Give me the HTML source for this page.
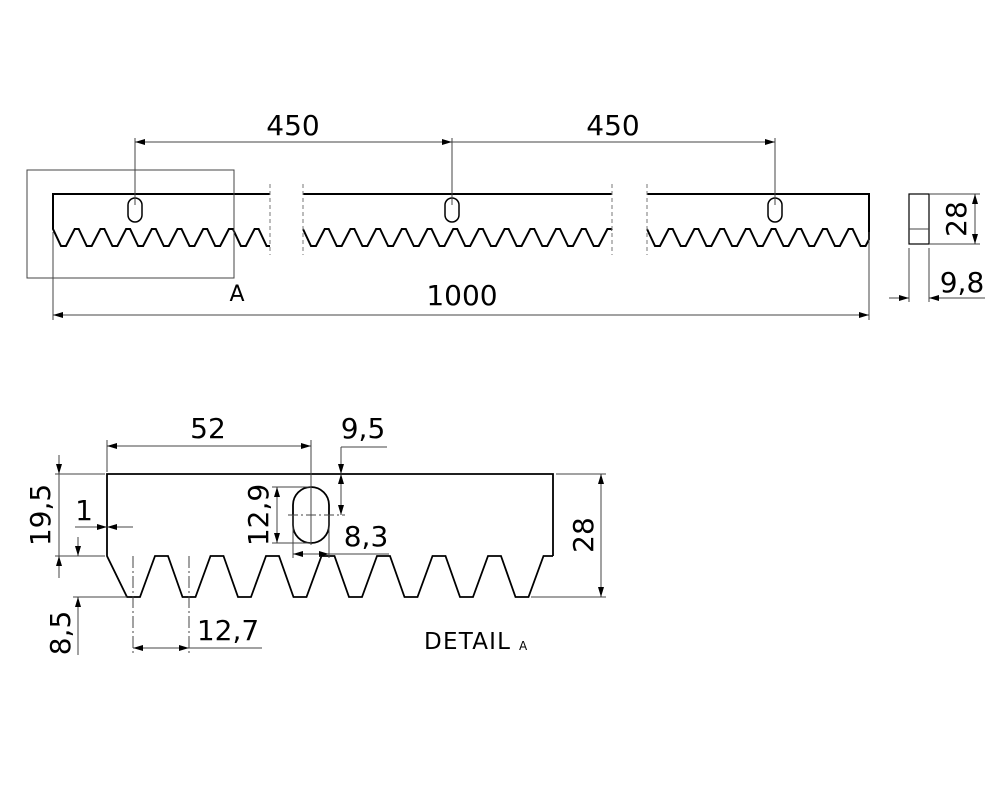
<!DOCTYPE html>
<html><head><meta charset="utf-8"><style>
html,body{margin:0;padding:0;background:#fff}
svg{display:block}
text{font-family:"DejaVu Sans","Liberation Sans",sans-serif;fill:#000}
</style></head><body>
<svg id="s" width="1000" height="800" viewBox="0 0 1000 800" xmlns="http://www.w3.org/2000/svg">
<defs>
<marker id="a" viewBox="0 0 10 6" refX="10" refY="3" markerWidth="10" markerHeight="6" orient="auto-start-reverse" markerUnits="userSpaceOnUse"><path d="M0,0 L10,3 L0,6z" fill="#000"/></marker>
</defs>
<g fill="none" stroke="#000">
<path id="p1" stroke-width="2" d=""/>
<path id="p2" stroke-width="2" d=""/>
<path id="p3" stroke-width="2" d=""/>
<g stroke="#777" stroke-dasharray="4,3" stroke-width="1">
<line x1="270" y1="184" x2="270" y2="255"/>
<line x1="303" y1="184" x2="303" y2="255"/>
<line x1="612" y1="184" x2="612" y2="255"/>
<line x1="647" y1="184" x2="647" y2="255"/>
</g>
<g stroke-width="1.5">
<rect x="128" y="198" width="14" height="24" rx="7"/>
<rect x="445" y="198" width="14" height="24" rx="7"/>
<rect x="768" y="198" width="14" height="24" rx="7"/>
</g>
<g stroke="#444" stroke-width="1">
<rect x="27" y="170" width="207" height="108"/>
<line x1="135" y1="138" x2="135" y2="205"/>
<line x1="452" y1="138" x2="452" y2="205"/>
<line x1="775" y1="138" x2="775" y2="205"/>
<line x1="135" y1="142" x2="452" y2="142" marker-start="url(#a)" marker-end="url(#a)"/>
<line x1="452" y1="142" x2="775" y2="142" marker-end="url(#a)"/>
<line x1="53" y1="232" x2="53" y2="320"/>
<line x1="869" y1="232" x2="869" y2="320"/>
<line x1="53" y1="315" x2="869" y2="315" marker-start="url(#a)" marker-end="url(#a)"/>
<rect x="909" y="194" width="20" height="50" stroke="#000" stroke-width="1.2"/>
<line x1="909" y1="229" x2="929" y2="229"/>
<line x1="929" y1="194" x2="980" y2="194"/>
<line x1="929" y1="244" x2="980" y2="244"/>
<line x1="975" y1="194" x2="975" y2="244" marker-start="url(#a)" marker-end="url(#a)"/>
<line x1="909" y1="248" x2="909" y2="302"/>
<line x1="929" y1="248" x2="929" y2="302"/>
<line x1="889" y1="298" x2="909" y2="298" marker-end="url(#a)"/>
<line x1="949" y1="298" x2="929" y2="298" marker-end="url(#a)"/>
<line x1="949" y1="298" x2="985" y2="298"/>
</g>
<path stroke-width="1.8" d="M553,556 L553,474 L107,474 L107,556 L127,597 L140,597 L155,556 L168,556 L182.5,597 L195.5,597 L210.5,556 L223.5,556 L238,597 L251,597 L266,556 L279,556 L293.5,597 L306.5,597 L321.5,556 L334.5,556 L349,597 L362,597 L377,556 L390,556 L404.5,597 L417.5,597 L432.5,556 L445.5,556 L460,597 L473,597 L488,556 L501,556 L515.5,597 L528.5,597 L543.5,556 L553,556"/>
<rect x="293" y="487" width="36" height="56" rx="18" stroke-width="1.8"/>
<g stroke="#444" stroke-width="1">
<line x1="311" y1="440" x2="311" y2="545"/>
<line x1="288" y1="515" x2="345" y2="515" stroke-dasharray="10,3,2,3"/>
<line x1="107" y1="440" x2="107" y2="472"/>
<line x1="107" y1="446" x2="311" y2="446" marker-start="url(#a)" marker-end="url(#a)"/>
<line x1="341" y1="447" x2="387" y2="447"/>
<line x1="341" y1="447" x2="341" y2="474" marker-end="url(#a)"/>
<line x1="341" y1="474" x2="341" y2="515" marker-start="url(#a)" marker-end="url(#a)"/>
<line x1="272" y1="487" x2="311" y2="487"/>
<line x1="272" y1="543" x2="311" y2="543"/>
<line x1="277" y1="487" x2="277" y2="543" marker-start="url(#a)" marker-end="url(#a)"/>
<line x1="293" y1="515" x2="293" y2="558"/>
<line x1="329" y1="515" x2="329" y2="558"/>
<line x1="293" y1="554" x2="329" y2="554" marker-start="url(#a)" marker-end="url(#a)"/>
<line x1="329" y1="554" x2="389" y2="554"/>
<line x1="55" y1="474" x2="105" y2="474"/>
<line x1="55" y1="556" x2="105" y2="556"/>
<line x1="59" y1="455" x2="59" y2="474" marker-end="url(#a)"/>
<line x1="59" y1="474" x2="59" y2="556"/>
<line x1="59" y1="578" x2="59" y2="556" marker-end="url(#a)"/>
<line x1="75" y1="527" x2="107" y2="527" marker-end="url(#a)"/>
<line x1="133" y1="527" x2="107" y2="527" marker-end="url(#a)"/>
<line x1="73" y1="597" x2="127" y2="597"/>
<line x1="78" y1="537" x2="78" y2="556" marker-end="url(#a)"/>
<line x1="78" y1="618" x2="78" y2="597" marker-end="url(#a)"/>
<line x1="78" y1="618" x2="78" y2="655"/>
<line x1="133" y1="556" x2="133" y2="655" stroke-dasharray="12,3,2,3"/>
<line x1="189" y1="556" x2="189" y2="655" stroke-dasharray="12,3,2,3"/>
<line x1="133" y1="648" x2="189" y2="648" marker-start="url(#a)" marker-end="url(#a)"/>
<line x1="189" y1="648" x2="262" y2="648"/>
<line x1="556" y1="474" x2="606" y2="474"/>
<line x1="531" y1="597" x2="606" y2="597"/>
<line x1="601" y1="474" x2="601" y2="597" marker-start="url(#a)" marker-end="url(#a)"/>
</g>
</g>
<g font-size="28">
<text x="293" y="135" text-anchor="middle">450</text>
<text x="613" y="135" text-anchor="middle">450</text>
<text x="462" y="305" text-anchor="middle">1000</text>
<text x="962" y="292" text-anchor="middle">9,8</text>
<text transform="translate(966,219) rotate(-90)" text-anchor="middle">28</text>
<text x="208" y="438" text-anchor="middle">52</text>
<text x="363" y="438" text-anchor="middle">9,5</text>
<text x="366" y="546" text-anchor="middle">8,3</text>
<text x="228" y="640" text-anchor="middle">12,7</text>
<text x="84" y="520" text-anchor="middle">1</text>
<text transform="translate(50,515) rotate(-90)" text-anchor="middle">19,5</text>
<text transform="translate(268,515) rotate(-90)" text-anchor="middle">12,9</text>
<text transform="translate(70,633) rotate(-90)" text-anchor="middle">8,5</text>
<text transform="translate(593,535) rotate(-90)" text-anchor="middle">28</text>
</g>
<text x="237" y="301" font-size="22" text-anchor="middle">A</text>
<text x="424" y="649" font-size="23" textLength="86">DETAIL</text>
<text x="519" y="650" font-size="12">A</text>
</svg>
<script>
function teeth(x0,x1,solidLeft,solidRight){
  var s;
  if(solidLeft){s="M"+x1+",194 L"+x0+",194 L"+x0+",229";}
  else {s="M"+x0+",194 L"+x1+",194";if(solidRight)s+=" L"+x1+",229";s+=" M"+x0+",229";}
  var x=x0;
  while(true){
    var seq=[[x+8,246],[x+13,246],[x+21.7,229],[x+25.7,229]];
    var stop=false;
    for(var i=0;i<seq.length;i++){
      if(seq[i][0]>=x1){
        var y=i<2?229+Math.min(17,(x1-x)/8*17):(i==2?246-(x1-x-13)/8.7*17:229);
        s+=" L"+x1+","+y.toFixed(1);stop=true;break;}
      s+=" L"+seq[i][0].toFixed(1)+","+seq[i][1];
    }
    if(stop)break;
    x=x+25.7;
  }
  if(solidRight){s+=" L"+x1+",194";}
  return s;
}
document.getElementById("p1").setAttribute("d",teeth(53,270,true,false));
document.getElementById("p2").setAttribute("d",teeth(303,612,false,false));
document.getElementById("p3").setAttribute("d",teeth(647,869,false,true));
</script>
</body></html>
